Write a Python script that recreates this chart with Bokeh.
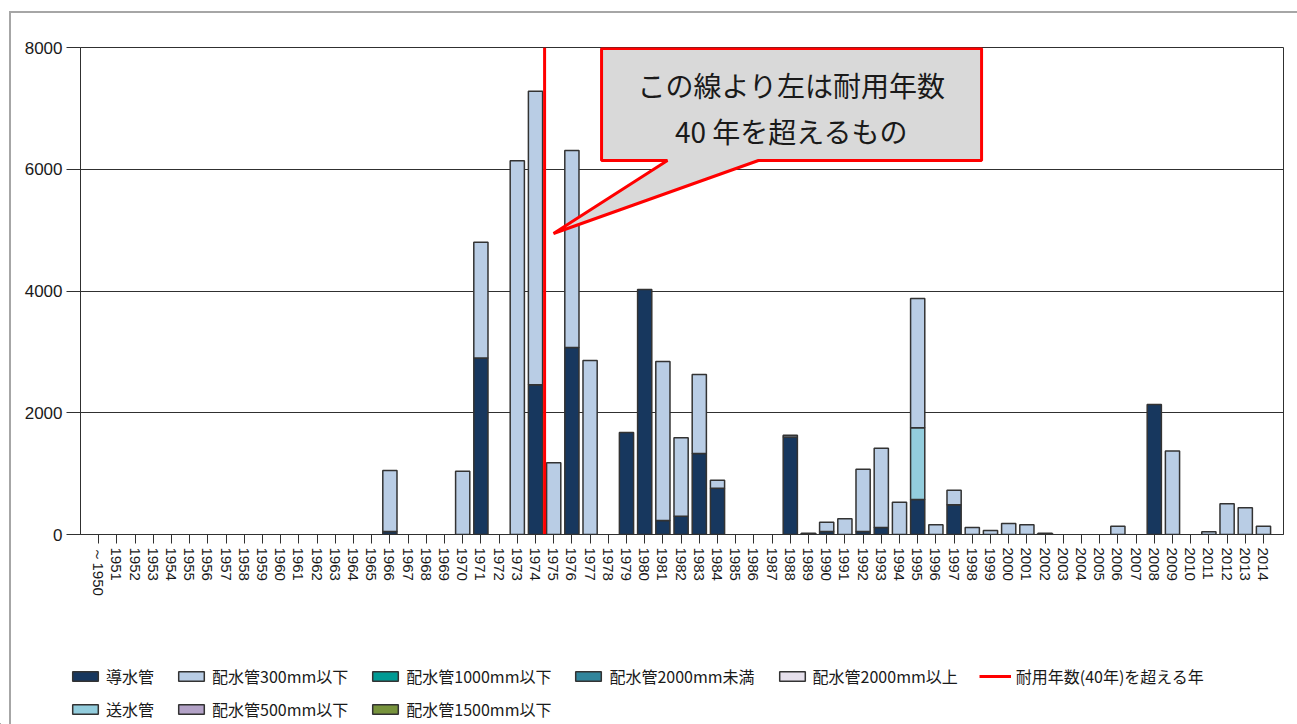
import math
from bokeh.plotting import figure
from bokeh.layouts import column
from bokeh.models import (Range1d, FixedTicker, Legend, LegendItem, PolyAnnotation,
                          Label, ColumnDataSource)
from bokeh.embed import file_html
from bokeh.resources import INLINE

# ---------------- data ----------------
categories = ["～1950"] + [str(y) for y in range(1951, 2015)]

dosui = [  # 導水管
    0,
    0, 0, 0, 0, 0, 0, 0, 0, 0,                       # 1951-1959
    0, 0, 0, 0, 0, 0, 50, 0, 0, 0,                   # 1960-1969
    0, 2900, 0, 0, 2460, 0, 3070, 0, 0, 1675,        # 1970-1979
    4025, 230, 300, 1330, 760, 0, 0, 0, 1600, 20,    # 1980-1989
    50, 0, 50, 115, 0, 575, 0, 490, 0, 0,            # 1990-1999
    0, 0, 20, 0, 0, 0, 0, 0, 2136, 0,                # 2000-2009
    0, 0, 0, 0, 0,                                   # 2010-2014
]
sosui = [  # 送水管
    0,
    0, 0, 0, 0, 0, 0, 0, 0, 0,
    0, 0, 0, 0, 0, 0, 0, 0, 0, 0,
    0, 0, 0, 0, 0, 0, 0, 0, 0, 0,
    0, 0, 0, 0, 0, 0, 0, 0, 0, 0,
    0, 0, 0, 0, 0, 1180, 0, 0, 0, 0,
    0, 0, 0, 0, 0, 0, 0, 0, 0, 0,
    0, 0, 0, 0, 0,
]
haisui300 = [  # 配水管300mm以下
    0,
    0, 0, 0, 0, 0, 0, 0, 0, 0,
    0, 0, 0, 0, 0, 0, 1000, 0, 0, 0,
    1040, 1900, 0, 6140, 4820, 1180, 3240, 2860, 0, 0,
    0, 2610, 1290, 1300, 130, 0, 0, 0, 30, 0,
    150, 258, 1020, 1300, 530, 2120, 159, 235, 115, 66,
    180, 160, 0, 0, 0, 0, 137, 0, 0, 1370,
    0, 44, 504, 438, 137,
]
zeros = [0] * 65
haisui500 = zeros
haisui1000 = zeros
haisui1500 = zeros
haisui2000u = zeros
haisui2000o = zeros

limit_label = "耐用年数(40年)を超える年"
limit_after = "1974"   # line drawn between 1974 and 1975

callout_lines = ["この線より左は耐用年数", "40 年を超えるもの"]

series_names = ["導水管", "送水管", "配水管300mm以下", "配水管500mm以下",
                "配水管1000mm以下", "配水管1500mm以下", "配水管2000mm未満", "配水管2000mm以上"]
series_vals = [dosui, sosui, haisui300, haisui500, haisui1000, haisui1500, haisui2000u, haisui2000o]
series_colors = ["#17375E", "#93CDDD", "#B9CDE5", "#B3A2C7",
                 "#009A94", "#77933C", "#31859C", "#E6E0EC"]

# ---------------- main figure ----------------
xs = list(range(len(categories)))
data = {"x": xs}
for n, v in zip(series_names, series_vals):
    data[n] = v
    data["la_" + n] = [1 if val > 0 else 0 for val in v]
src = ColumnDataSource(data)

p = figure(width=1297, height=640, output_backend="svg", toolbar_location=None,
           x_range=Range1d(-1.0, 65.1), y_range=Range1d(0, 8000),
           min_border_left=80, min_border_right=14, min_border_top=47, min_border_bottom=106)
p.title.visible = False
p.frame_align = False
p.background_fill_color = "white"
p.border_fill_alpha = 0
p.outline_line_color = "#303030"
p.outline_line_width = 1

bar_line = dict(line_color="#333333", line_width=1.5)
renderers = p.vbar_stack(series_names, x="x", width=0.78, source=src,
                         fill_color=series_colors, **bar_line)
for r, n in zip(renderers, series_names):
    r.glyph.line_alpha = "la_" + n

lx = categories.index(limit_after) + 0.5
p.segment(x0=[lx], y0=[0], x1=[lx], y1=[8000], line_color="#FF0000", line_width=3)

# axes
yticks = FixedTicker(ticks=[0, 2000, 4000, 6000, 8000])
p.xgrid.visible = False
p.ygrid.ticker = yticks
p.ygrid.grid_line_color = "#303030"
p.ygrid.grid_line_width = 1
p.yaxis.ticker = yticks
p.yaxis.major_tick_out = 14
p.yaxis.major_tick_in = 0
p.yaxis.minor_tick_line_color = None
p.yaxis.axis_line_color = "#303030"
p.yaxis.major_tick_line_color = "#303030"
p.yaxis.major_label_text_font = "Liberation Sans"
p.yaxis.major_label_text_font_size = "17px"
p.yaxis.major_label_text_color = "#1a1a1a"
p.yaxis.major_label_standoff = 4

p.xaxis.ticker = FixedTicker(ticks=xs)
p.xaxis.major_label_overrides = {i: c for i, c in zip(xs, categories)}
p.xaxis.major_label_orientation = -math.pi / 2
p.xaxis.major_tick_out = 9
p.xaxis.major_tick_in = 0
p.xaxis.minor_tick_line_color = None
p.xaxis.axis_line_color = "#303030"
p.xaxis.major_tick_line_color = "#303030"
p.xaxis.major_label_text_font = "Liberation Sans"
p.xaxis.major_label_text_font_size = "15px"
p.xaxis.major_label_text_color = "#1a1a1a"
p.xaxis.major_label_standoff = 4

# callout
cx = [27.63, 48.51, 48.51, 36.25, 24.99, 31.25, 27.63]
cy = [7985, 7985, 6144, 6144, 4945, 6144, 6144]
p.add_layout(PolyAnnotation(xs=cx, ys=cy, fill_color="#D9D9D9", fill_alpha=1.0,
                            line_color="#FF0000", line_alpha=1.0, line_width=3))
for t, yy in zip(callout_lines, [7376, 6636]):
    p.add_layout(Label(x=38.07, y=yy, text=t, text_align="center", text_baseline="middle",
                       text_font="Noto Sans CJK JP", text_font_size="28px", text_color="#1a1a1a"))

# ---------------- legend strip ----------------
lp = figure(width=1297, height=84, output_backend="svg", toolbar_location=None,
            x_range=Range1d(0, 1), y_range=Range1d(0, 1),
            x_axis_location=None, y_axis_location=None,
            min_border_left=0, min_border_right=0, min_border_top=0, min_border_bottom=0)
lp.title.visible = False
lp.frame_align = False
lp.grid.visible = False
lp.outline_line_color = None
lp.background_fill_alpha = 0
lp.border_fill_alpha = 0

# proxy renderers (one point placed outside the visible range) used only for legend glyphs
proxies = {}
for n, c in zip(series_names, series_colors):
    proxies[n] = lp.vbar(x=[-5], top=[0], bottom=[0], width=0.78, fill_color=c, **bar_line)
red_proxy = lp.segment(x0=[-5], y0=[0], x1=[-5], y1=[0], line_color="#FF0000", line_width=3)

row1 = ["導水管", "配水管300mm以下", "配水管1000mm以下", "配水管2000mm未満", "配水管2000mm以上"]
row2 = ["送水管", "配水管500mm以下", "配水管1500mm以下"]
items1 = [LegendItem(label=n, renderers=[proxies[n]]) for n in row1] + \
         [LegendItem(label=limit_label, renderers=[red_proxy])]
items2 = [LegendItem(label=n, renderers=[proxies[n]]) for n in row2]
for items, loc in [(items1, (69, 36)), (items2, (69, 3))]:
    lg = Legend(items=items, location=loc, orientation="horizontal",
                padding=0, margin=0, spacing=21, label_standoff=5,
                glyph_width=32, glyph_height=12, label_height=20,
                label_text_font="Noto Sans CJK JP", label_text_font_size="16px",
                label_text_color="#1a1a1a",
                border_line_alpha=0, background_fill_alpha=0)
    lp.add_layout(lg, "center")

layout = column(p, lp, spacing=0,
                styles={"box-shadow": "inset 9px 11px 0 0 #FFFFFF, inset 11px 13px 0 0 #A6A6A6"})

open("out.html", "w").write(file_html(layout, INLINE))
